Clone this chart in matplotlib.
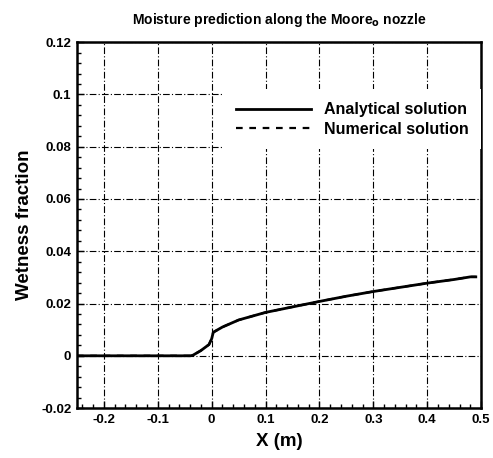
import matplotlib
matplotlib.use("Agg")
import matplotlib.pyplot as plt
from matplotlib.ticker import MultipleLocator, FuncFormatter

plt.rcParams['font.family'] = ['Liberation Sans', 'DejaVu Sans']

# Data
x_analytical = [-0.25, -0.10, -0.04, -0.035, -0.02, -0.005, 0.0, 0.003, 0.02, 0.05,
                0.10, 0.15, 0.20, 0.25, 0.30, 0.35, 0.40, 0.45, 0.48, 0.49]
y_analytical = [0.0, 0.0, 0.0, 0.0002, 0.002, 0.0043, 0.0065, 0.009, 0.011, 0.0137,
                0.0166, 0.0187, 0.0208, 0.0228, 0.0246, 0.0262, 0.0278, 0.0292, 0.0302, 0.0302]
x_numerical = x_analytical
y_numerical = y_analytical

series_labels = ["Analytical solution", "Numerical solution"]

fig = plt.figure(figsize=(4.93, 4.58), dpi=100)
ax = fig.add_axes([0.156, 0.109, 0.82, 0.799])

ax.plot(x_analytical, y_analytical, color='black', lw=2.0, ls='-', label=series_labels[0], zorder=3)
ax.plot(x_numerical, y_numerical, color='black', lw=1.6, ls=(0, (3, 3)), label=series_labels[1], zorder=3)

ax.set_xlim(-0.25, 0.5)
ax.set_ylim(-0.02, 0.12)
ax.xaxis.set_major_locator(MultipleLocator(0.1))
ax.xaxis.set_minor_locator(MultipleLocator(0.02))
ax.yaxis.set_major_locator(MultipleLocator(0.02))
ax.yaxis.set_minor_locator(MultipleLocator(0.004))
fmt = FuncFormatter(lambda v, p: ('%g' % round(v, 4)) if abs(v) > 1e-9 else '0')
ax.xaxis.set_major_formatter(fmt)
ax.yaxis.set_major_formatter(fmt)

ax.grid(True, which='major', color='black', ls=(0, (6, 2, 1, 2)), lw=0.8)
ax.tick_params(which='both', direction='in', top=False, right=False, labelsize=9.5, width=1)
ax.tick_params(which='major', length=5, pad=4)
ax.tick_params(which='minor', length=3)
for lab in ax.get_xticklabels() + ax.get_yticklabels():
    lab.set_fontweight('bold')
for s in ax.spines.values():
    s.set_linewidth(1.8)

ax.set_xlabel('X (m)', fontsize=13.5, fontweight='bold', labelpad=5)
ax.set_ylabel('Wetness fraction', fontsize=13.5, fontweight='bold', labelpad=6)
ax.set_title(r'Moisture prediction along the Moore$_{\mathbf{o}}$ nozzle', fontsize=10,
             fontweight='bold', pad=13)

leg = ax.legend(loc='upper right', bbox_to_anchor=(1.0, 0.871),
                prop={'weight': 'bold', 'size': 11.5}, handlelength=4.7, handletextpad=0.8,
                labelspacing=0.28, borderpad=0.8, borderaxespad=0.0,
                frameon=True, fancybox=False)
leg.get_frame().set_edgecolor('none')
leg.get_frame().set_facecolor('white')
leg.get_frame().set_alpha(1)

fig.savefig('out.png', dpi=100)
